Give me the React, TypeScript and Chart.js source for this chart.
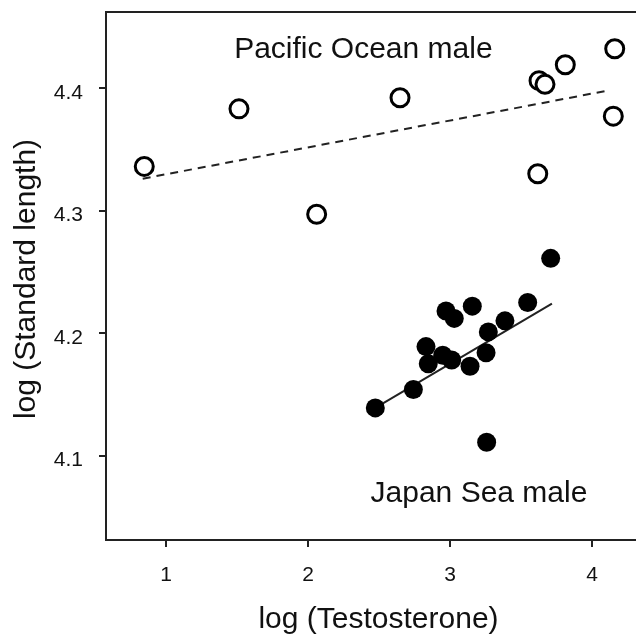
import React, { useEffect, useRef } from "react";
import { Chart, registerables } from "chart.js";

Chart.register(...registerables);

// Pacific Ocean males (open circles)
const pacificX = [0.847, 1.514, 2.061, 2.648, 3.627, 3.669, 3.812, 4.16, 4.15, 3.618];
const pacificY = [4.336, 4.383, 4.297, 4.392, 4.406, 4.403, 4.419, 4.432, 4.377, 4.33];
// Japan Sea males (filled circles)
const japanX = [2.474, 2.742, 2.831, 2.847, 2.949, 3.012, 2.972, 3.03, 3.157, 3.141, 3.254, 3.27, 3.387, 3.547, 3.709, 3.258];
const japanY = [4.139, 4.154, 4.189, 4.175, 4.182, 4.178, 4.218, 4.212, 4.222, 4.173, 4.184, 4.201, 4.21, 4.225, 4.261, 4.111];
// Regression lines
const pacificFitX = [0.836, 4.118];
const pacificFitY = [4.326, 4.398];
const japanFitX = [2.474, 3.718];
const japanFitY = [4.139, 4.224];

const xTicks = [1, 2, 3, 4];
const yTicks = [4.1, 4.2, 4.3, 4.4];
const xRange = [0.5775, 4.4155];
const yRange = [4.0312, 4.462];

const xTitle = "log (Testosterone)";
const yTitle = "log (Standard length)";
const annotations = [
  { text: "Pacific Ocean male", x: 2.39, y: 4.4245 },
  { text: "Japan Sea male", x: 3.204, y: 4.0625 },
];

const FONT = '"Liberation Sans", Arial, Helvetica, sans-serif';
const INK = "#111";
const AXIS = "#222";

const zip = (xs: number[], ys: number[]) => xs.map((x, i) => ({ x, y: ys[i] }));

export default function App() {
  const ref = useRef<HTMLCanvasElement>(null);

  useEffect(() => {
    document.body.style.margin = "0";
    document.body.style.overflow = "hidden";
    document.documentElement.style.overflow = "hidden";
    const canvas = ref.current;
    if (!canvas) return;

    const textPlugin = {
      id: "texts",
      afterDraw(chart: any) {
        const { ctx, chartArea, scales } = chart;
        ctx.save();
        ctx.strokeStyle = AXIS;
        ctx.lineWidth = 2;
        ctx.beginPath();
        ctx.moveTo(chartArea.left - 1, chartArea.top);
        ctx.lineTo(chartArea.right, chartArea.top);
        ctx.lineTo(chartArea.right, chartArea.bottom);
        ctx.stroke();

        ctx.fillStyle = INK;
        ctx.font = `30px ${FONT}`;
        ctx.textAlign = "center";
        ctx.textBaseline = "alphabetic";
        for (const a of annotations) {
          ctx.fillText(a.text, scales.x.getPixelForValue(a.x), scales.y.getPixelForValue(a.y));
        }
        ctx.fillText(xTitle, (chartArea.left + chartArea.right) / 2, chartArea.bottom + 88);
        ctx.translate(chartArea.left - 71, (chartArea.top + chartArea.bottom) / 2 + 3);
        ctx.rotate(-Math.PI / 2);
        ctx.fillText(yTitle, 0, 0);
        ctx.restore();
      },
    };

    const chart = new Chart(canvas, {
      type: "scatter",
      data: {
        datasets: [
          {
            type: "line",
            data: zip(pacificFitX, pacificFitY),
            borderColor: AXIS,
            borderWidth: 2,
            borderDash: [8, 6],
            pointRadius: 0,
            fill: false,
            order: 2,
          },
          {
            type: "line",
            data: zip(japanFitX, japanFitY),
            borderColor: AXIS,
            borderWidth: 2,
            pointRadius: 0,
            fill: false,
            order: 2,
          },
          {
            data: zip(pacificX, pacificY),
            pointRadius: 9,
            pointBorderWidth: 3,
            pointBackgroundColor: "#fff",
            pointBorderColor: "#000",
            backgroundColor: "#fff",
            borderColor: "#000",
            order: 1,
          },
          {
            data: zip(japanX, japanY),
            pointRadius: 9.5,
            pointBorderWidth: 0,
            pointBackgroundColor: "#000",
            backgroundColor: "#000",
            borderColor: "#000",
            order: 0,
          },
        ],
      } as any,
      options: {
        animation: false,
        responsive: false,
        maintainAspectRatio: false,
        devicePixelRatio: 1,
        layout: { padding: { top: 12, right: 9, left: 0, bottom: 0 }, autoPadding: false },
        plugins: { legend: { display: false }, tooltip: { enabled: false } },
        scales: {
          x: {
            type: "linear",
            min: xRange[0],
            max: xRange[1],
            afterBuildTicks: (s: any) => {
              s.ticks = xTicks.map((v) => ({ value: v }));
            },
            afterFit: (s: any) => {
              s.height = 94;
              s.paddingLeft = 0;
              s.paddingRight = 0;
            },
            grid: { drawOnChartArea: false, tickLength: 7, color: AXIS, lineWidth: 2 },
            border: { display: true, color: AXIS, width: 2 },
            ticks: {
              font: { size: 21, family: FONT },
              color: INK,
              padding: 16,
              maxRotation: 0,
              callback: (v: any) => String(v),
            },
          },
          y: {
            type: "linear",
            min: yRange[0],
            max: yRange[1],
            afterBuildTicks: (s: any) => {
              s.ticks = yTicks.map((v) => ({ value: v }));
            },
            afterFit: (s: any) => {
              s.width = 106;
              s.paddingTop = 0;
              s.paddingBottom = 0;
            },
            grid: { drawOnChartArea: false, tickLength: 7, color: AXIS, lineWidth: 2 },
            border: { display: true, color: AXIS, width: 2 },
            ticks: {
              font: { size: 21, family: FONT },
              color: INK,
              padding: 16,
              labelOffset: 5,
              callback: (v: any) => Number(v).toFixed(1),
            },
          },
        },
      } as any,
      plugins: [textPlugin],
    });

    return () => chart.destroy();
  }, []);

  return (
    <div style={{ width: 636, height: 634, overflow: "hidden", background: "#fff" }}>
      <canvas ref={ref} width={660} height={634} style={{ display: "block" }} />
    </div>
  );
}
